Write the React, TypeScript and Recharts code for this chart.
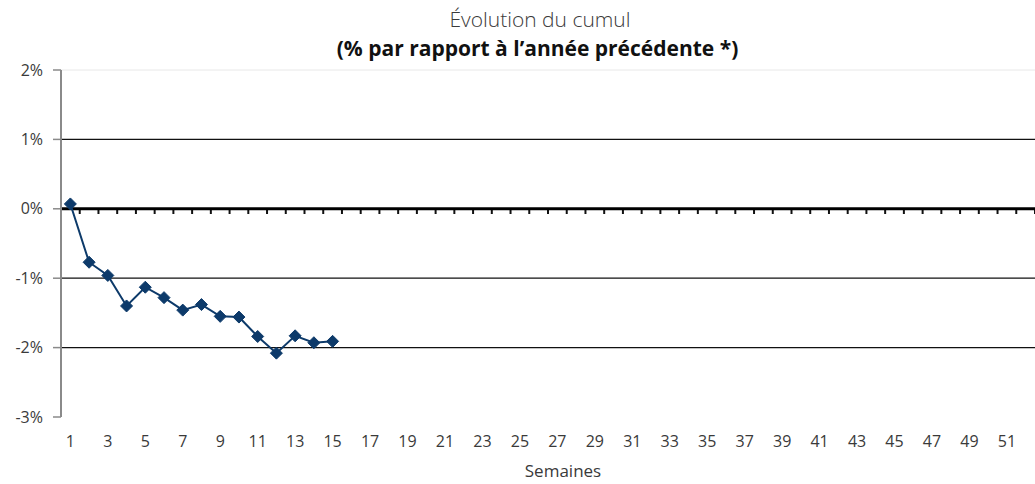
import { LineChart, Line, XAxis, YAxis, ReferenceLine, Label } from 'recharts';

const WEEKS = Array.from({ length: 52 }, (_, i) => i + 1);
const CUMUL = [0.07, -0.77, -0.96, -1.4, -1.13, -1.28, -1.46, -1.38, -1.55, -1.56, -1.84, -2.08, -1.83, -1.93, -1.91];
const X_TICKS = WEEKS.filter((w) => w % 2 === 1);
const Y_TICKS = [-3, -2, -1, 0, 1, 2];
const GRID_DARK = [1, -1, -2];

const data = WEEKS.map((w, i) => ({ week: w, value: i < CUMUL.length ? CUMUL[i] : null }));
const boundaries = [0, ...WEEKS].map((w) => w + 0.5);

const NAVY = '#0d3a6a';
const FONT = '"Open Sans", "Noto Sans", sans-serif';

function Diamond(props: any) {
  const { cx, cy, value } = props;
  if (value == null || cx == null || cy == null) return null;
  const r = 6;
  return (
    <path
      d={`M${cx},${cy - r} L${cx + r},${cy} L${cx},${cy + r} L${cx - r},${cy} Z`}
      fill={NAVY}
      stroke={NAVY}
      strokeWidth={1}
    />
  );
}

export default function App() {
  return (
    <div style={{ position: 'relative', width: 1035, height: 484, fontFamily: FONT }}>
      <style>{`body { margin: 0; }`}</style>
      <div
        style={{
          position: 'absolute',
          top: 5,
          left: 0,
          width: 1080,
          textAlign: 'center',
          fontSize: 21,
          lineHeight: '28px',
          color: '#3a3a3a',
          fontWeight: 300,
        }}
      >
        Évolution du cumul
      </div>
      <div
        style={{
          position: 'absolute',
          top: 34,
          left: 0,
          width: 1075,
          textAlign: 'center',
          fontSize: 21,
          lineHeight: '28px',
          fontWeight: 700,
          color: '#111',
        }}
      >
        (% par rapport à l’année précédente *)
      </div>
      <LineChart
        width={1035}
        height={484}
        data={data}
        margin={{ top: 70, right: 0, bottom: 0, left: 0 }}
        style={{ position: 'absolute', top: 0, left: 0 }}
      >
        <XAxis
          dataKey="week"
          type="number"
          domain={[0.5, 52.5]}
          ticks={X_TICKS}
          axisLine={false}
          tickLine={false}
          tickSize={6}
          tickMargin={13}
          height={67}
          interval={0}
          tick={{ fill: '#3a3a3a', fontSize: 16, fontFamily: FONT }}
        >
          <Label
            value="Semaines"
            position="insideBottom"
            offset={7}
            dx={15}
            style={{ fill: '#3a3a3a', fontSize: 17, fontFamily: FONT }}
          />
        </XAxis>
        <YAxis
          type="number"
          domain={[-3, 2]}
          ticks={Y_TICKS}
          width={61}
          tickFormatter={(v: number) => `${v}%`}
          axisLine={{ stroke: '#8a8a8a', strokeWidth: 2 }}
          tickLine={{ stroke: '#8a8a8a', strokeWidth: 1.5 }}
          tickSize={8}
          tickMargin={10}
          tick={{ fill: '#3a3a3a', fontSize: 16, fontFamily: FONT }}
        />
        <ReferenceLine y={2} stroke="#e8e8e8" strokeWidth={1} />
        {GRID_DARK.map((g) => (
          <ReferenceLine key={g} y={g} stroke="#111" strokeWidth={1.2} />
        ))}
        {boundaries.map((b) => (
          <ReferenceLine
            key={`t${b}`}
            segment={[
              { x: b, y: 0 },
              { x: b, y: -0.075 },
            ]}
            stroke="#111"
            strokeWidth={2}
          />
        ))}
        <ReferenceLine y={0} stroke="#000" strokeWidth={3} />
        <Line
          dataKey="value"
          stroke={NAVY}
          strokeWidth={2}
          dot={<Diamond />}
          activeDot={false}
          isAnimationActive={false}
        />
      </LineChart>
    </div>
  );
}
